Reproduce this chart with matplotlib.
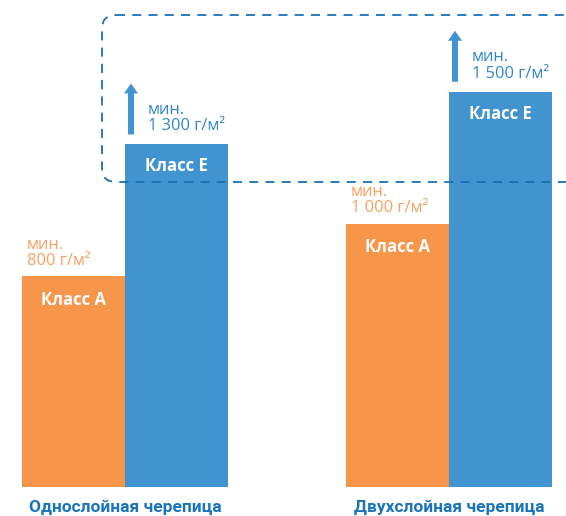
import matplotlib
matplotlib.use("Agg")
import matplotlib.pyplot as plt
from matplotlib.patches import FancyBboxPatch, FancyArrow

# data
groups = ["Однослойная черепица", "Двухслойная черепица"]
class_a = [800, 1000]
class_e = [1300, 1500]
class_names = ["Класс A", "Класс E"]
min_labels_a = ["мин.\n800 г/м²", "мин.\n1 000 г/м²"]
min_labels_e = ["мин.\n1 300 г/м²", "мин.\n1 500 г/м²"]

orange = "#f7954a"
blue = "#4294d0"
orange_txt = "#f8a060"
blue_txt = "#2f86c8"
dark_blue = "#1a74bb"

W, H = 566, 516
base_px = 487          # pixel row of the zero line
scale = 0.2635         # pixels per g/m2
centers = [125, 449]
bw = 103

fig = plt.figure(figsize=(W / 100, H / 100), dpi=100)
plt.rcParams["font.family"] = ["Open Sans", "DejaVu Sans"]

# value axes for the bars
ax = fig.add_axes([0, 0, 1, 1])
ax.set_xlim(0, W)
ax.set_ylim(-(H - base_px) / scale, base_px / scale)
ax.axis("off")

# pixel overlay for decorations
ov = fig.add_axes([0, 0, 1, 1])
ov.set_xlim(0, W)
ov.set_ylim(H, 0)
ov.axis("off")
ov.patch.set_alpha(0)


def px(v):
    return base_px - v * scale


for i, c in enumerate(centers):
    xa = c - bw / 2
    xe = c + bw / 2
    ax.bar(xa, class_a[i], width=bw, color=orange, linewidth=0)
    ax.bar(xe, class_e[i], width=bw, color=blue, linewidth=0)

    ov.text(xa, px(class_a[i]) + 24, class_names[0], color="white",
            fontsize=12, fontweight="bold", ha="center", va="center")
    ov.text(xe, px(class_e[i]) + 22, class_names[1], color="white",
            fontsize=12, fontweight="bold", ha="center", va="center")

    ov.text(c - bw + 5, px(class_a[i]) - 7, min_labels_a[i], color=orange_txt,
            fontsize=11.8, ha="left", va="bottom", linespacing=1.05)
    ov.text(c + 23, px(class_e[i]) - 10, min_labels_e[i], color=blue_txt,
            fontsize=11.8, ha="left", va="bottom", linespacing=1.05)

    ay = px(class_e[i]) - 10
    ov.add_patch(FancyArrow(c + 6, ay, 0, -51, width=6, head_width=14,
                            head_length=10, length_includes_head=True,
                            color=blue, linewidth=0))

    ov.text(c, 507, groups[i], color=dark_blue, fontsize=12.5,
            fontweight="bold", ha="center", va="center",
            family=["Roboto", "DejaVu Sans"])

box = FancyBboxPatch((102, 15), 520, 167,
                     boxstyle="round,pad=0,rounding_size=14",
                     fill=False, edgecolor="#1a6fb5", linewidth=1.3,
                     linestyle=(0, (5, 4)))
ov.add_patch(box)

fig.savefig("out.png", dpi=100)
